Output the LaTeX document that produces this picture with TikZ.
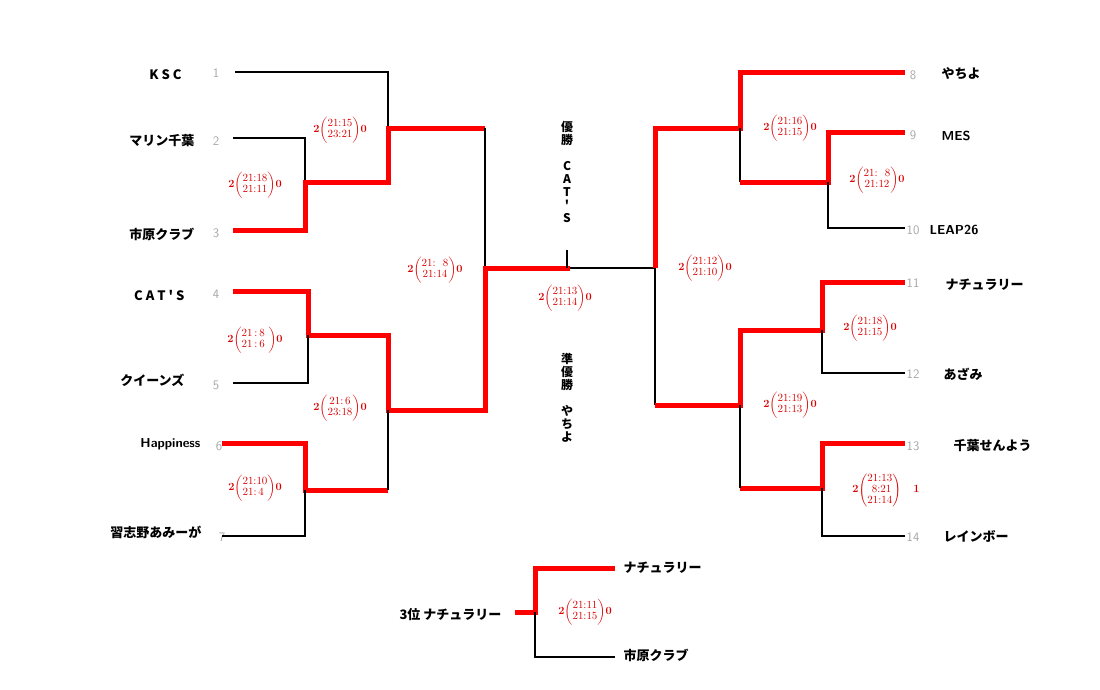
\documentclass[tikz,border=0pt]{standalone}
\usepackage{amsmath}
\usepackage{fontspec}
\newfontfamily\jp{Noto Sans CJK JP}
\usetikzlibrary{positioning}

\tikzset{
  win/.style = {draw = red, line width = 5pt},
  lose/.style = {draw = black, line width = 2.5pt},
  team/.style = {font = \jp\bfseries\fontsize{13}{13}\selectfont},
  seed/.style = {text = gray!70, font = \sffamily\fontsize{13}{13}\selectfont},
  res/.style = {text = red!85!black, font = \fontsize{11}{11}\selectfont, inner sep = 0pt},
}
\newcommand{\matchres}[3]{\textbf{#1}$\left(\begin{array}{@{}c@{}}#2\end{array}\right)$\textbf{#3}}

\begin{document}
\begin{tikzpicture}[x = 1pt, y = -1pt]
  \useasboundingbox (0,0) rectangle (1100,689);

  % left names
  \node[team, anchor = east] (t1) at (185,75) {K S C};
  \node[team, anchor = east] (t2) at (198,141) {マリン千葉};
  \node[team, anchor = east] (t3) at (198,234) {市原クラブ};
  \node[team, anchor = east] (t4) at (188,295) {C A T ' S};
  \node[team, anchor = east] (t5) at (188,380) {クイーンズ};
  \node[team, anchor = east] (t6) at (204,444) {\sffamily\bfseries Happiness};
  \node[team, anchor = east] (t7) at (205,532) {習志野あみーが};
  \foreach \n/\y in {1/73,2/141,3/233,4/294,5/385}
    \node[seed] (s\n) at (216,\y) {\n};
  \node[seed] (s6) at (219,446) {6};
  \node[seed] (s7) at (222,537) {7};

  % right names
  \foreach \n/\y in {8/75,9/135,10/230,11/283,12/374,13/446,14/537}
    \node[seed] (s\n) at (913,\y) {\n};
  \node[team, anchor = west] (t8) at (938,74) {やちよ};
  \node[team, anchor = west] (t9) at (938,136) {\sffamily\bfseries MES};
  \node[team, anchor = west] (t10) at (926,230) {\sffamily\bfseries LEAP26};
  \node[team, anchor = west] (t11) at (942,285) {ナチュラリー};
  \node[team, anchor = west] (t12) at (940,374) {あざみ};
  \node[team, anchor = west] (t13) at (950,446) {千葉せんよう};
  \node[team, anchor = west] (t14) at (940,536) {レインボー};

  % left half
  \draw[lose] (235,72) -| (388,128);
  \draw[lose] (233,138) -| (305,182);
  \draw[win] (233,230) -| (305,182) -| (388,128) -- (485,128);
  \draw[lose] (485,128) -- (485,268);
  \draw[win] (233,291) -| (308,335) -| (388,410) -- (485,410) -- (485,268) -- (570,268);
  \draw[lose] (233,383) -| (308,335);
  \draw[win] (222,443) -| (305,490) -- (388,490);
  \draw[lose] (388,490) -- (388,410);
  \draw[lose] (222,536) -| (305,490);

  % final
  \draw[lose] (570,268) -- (655,268);
  \draw[lose, line width = 1.5pt] (567,250) -- (567,268);

  % right half
  \draw[win] (905,72) -| (740,128) -- (655,128) -- (655,268);
  \draw[lose] (655,268) -- (655,405);
  \draw[lose] (740,128) -- (740,182);
  \draw[win] (905,132) -| (828,182) -- (740,182);
  \draw[lose] (905,228) -| (828,182);
  \draw[win] (905,282) -| (822,330) -| (740,405) -- (655,405);
  \draw[lose] (905,373) -| (822,330);
  \draw[win] (905,443) -| (822,488) -- (740,488);
  \draw[lose] (740,488) -- (740,405);
  \draw[lose] (905,536) -| (822,488);

  % third place
  \draw[win] (615,568) -| (535,612) -- (515,612);
  \draw[lose] (535,612) |- (615,657);
  \node[team, anchor = east] (p3) at (505,615) {3位 ナチュラリー};
  \node[team, anchor = west] (p1) at (620,568) {ナチュラリー};
  \node[team, anchor = west] (p2) at (620,655) {市原クラブ};

  % results
  \node[res] (r1) at (340,130) {\matchres{2}{21{:}15\\23{:}21}{0}};
  \node[res] (r2) at (255,185) {\matchres{2}{21{:}18\\21{:}11}{0}};
  \node[res] (r3) at (435,270) {\matchres{2}{21{:}\ \ 8\\21{:}14}{0}};
  \node[res] (r4) at (255,340) {\matchres{2}{21\,{:}\,8\ \\21\,{:}\,6\ }{0}};
  \node[res] (r5) at (340,408) {\matchres{2}{21{:}\,6\\23{:}18}{0}};
  \node[res] (r6) at (255,488) {\matchres{2}{21{:}10\\21{:}\,4\ }{0}};
  \node[res] (r7) at (565,298) {\matchres{2}{21{:}13\\21{:}14}{0}};
  \node[res] (r8) at (705,268) {\matchres{2}{21{:}12\\21{:}10}{0}};
  \node[res] (r9) at (790,128) {\matchres{2}{21{:}16\\21{:}15}{0}};
  \node[res] (r10) at (877,180) {\matchres{2}{21{:}\ \ 8\\21{:}12}{0}};
  \node[res] (r11) at (870,328) {\matchres{2}{21{:}18\\21{:}15}{0}};
  \node[res] (r12) at (790,405) {\matchres{2}{21{:}19\\21{:}13}{0}};
  \node[res] (r13) at (886,490) {\matchres{2}{21{:}13\\\ 8{:}21\\21{:}14}{\ \ \ 1}};
  \node[res] (r14) at (585,612) {\matchres{2}{21{:}11\\21{:}15}{0}};

  % champion and runner-up
  \node[team, align = center, font = \jp\bfseries\fontsize{12}{13}\selectfont] (champ)
    at (567,172) {優\\勝\\\\C\\A\\T\\'\\S};
  \node[team, align = center, font = \jp\bfseries\fontsize{12}{13}\selectfont] (second)
    at (567,398) {準\\優\\勝\\\\や\\ち\\よ};
\end{tikzpicture}
\end{document}
